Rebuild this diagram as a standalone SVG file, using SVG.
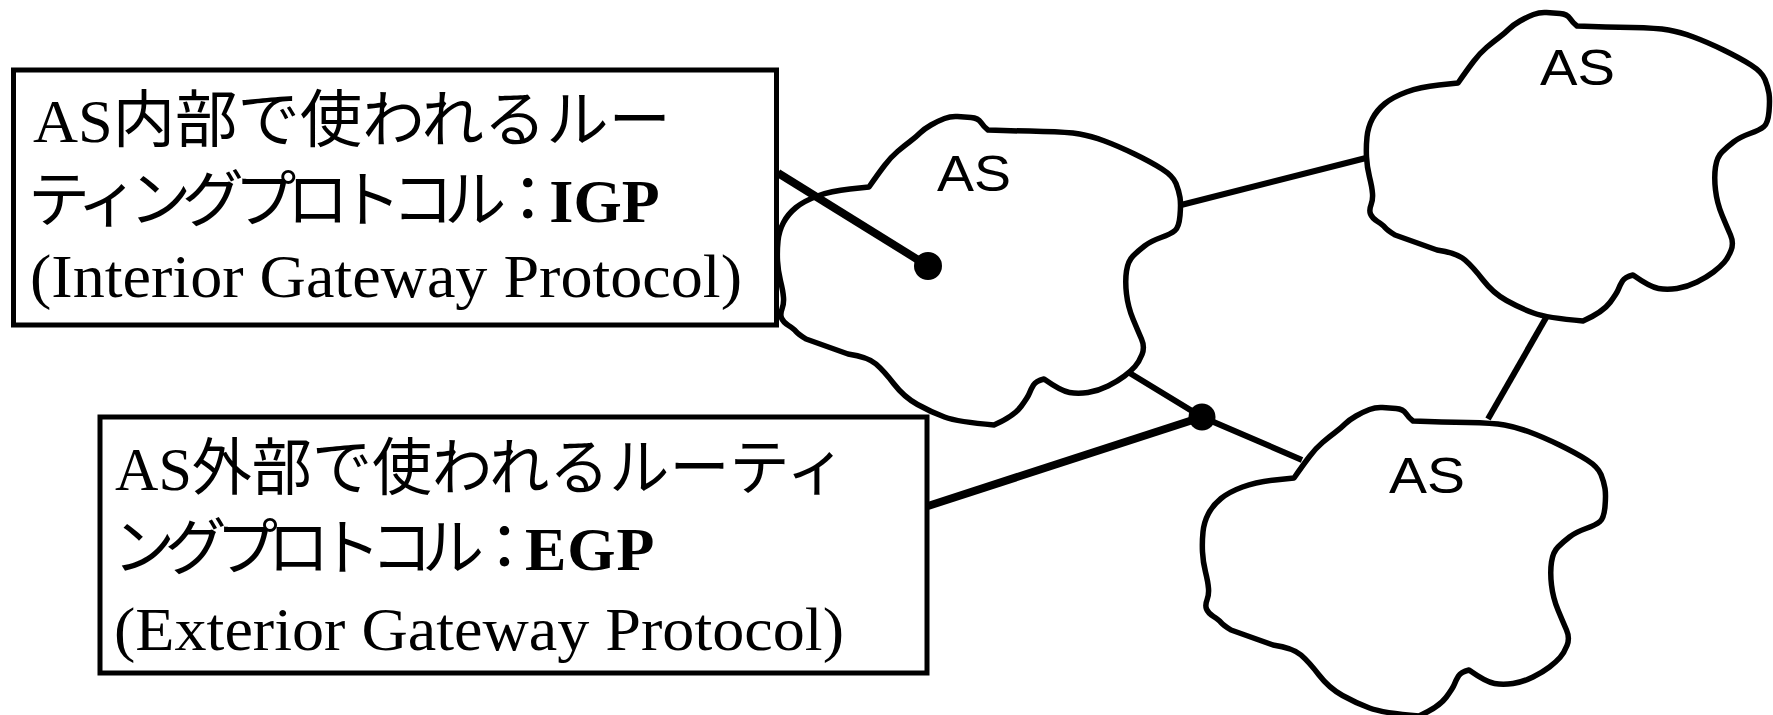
<svg xmlns="http://www.w3.org/2000/svg" xmlns:xlink="http://www.w3.org/1999/xlink" width="1773" height="715" viewBox="0 0 1773 715">
  <style>
    .cloud { fill: none; stroke: #000; stroke-width: 5.5; stroke-linejoin: round; }
    .box { fill: #fff; stroke: #000; stroke-width: 5; }
    .lbl { font-family: "Liberation Serif", "Noto Sans CJK JP", serif; font-size: 62px; fill: #000; }
    .b { font-weight: bold; }
    .as { font-family: "Liberation Sans", Arial, sans-serif; font-size: 50px; fill: #000; }
    .link { stroke: #000; stroke-width: 6; fill: none; }
    .lead { stroke: #000; stroke-width: 8; fill: none; }
    .dot { fill: #000; }
  </style>
  <defs>
    <!-- irregular AS outline, local origin at its upper-left -->
    <path id="cloud" d="M91,73 Q100,60 106.5,51.5 Q113,43 119.5,37.5 Q126,32 132,27.5 Q138,23 142,19 Q146,15 153,11 Q160,7 166.5,4.5 Q173,2 179.5,2.5 Q186,3 193,3.5 Q200,4 203,8.5 Q206,13 210,16 Q240,17 265,17.5 Q290,18 301.5,20 Q313,22 326.5,27 Q340,32 356.5,40 Q373,48 384,55 Q395,62 398,69.5 Q401,77 402,83.5 Q403,90 402,101.5 Q401,113 397,116.5 Q393,120 383,123.5 Q373,127 366.5,132 Q360,137 355,142 Q350,147 348.5,157 Q347,167 348.5,180 Q350,193 355,205 Q360,217 363.5,225 Q367,233 364,240.5 Q361,248 357,252.5 Q353,257 346.5,262 Q340,267 330,272 Q320,277 310,278.5 Q300,280 291.5,278.5 Q283,277 266,265 Q258,267 255.5,271 Q253,275 251.5,279 Q250,283 243,292.5 Q236,302 216,311 Q180,308 166.5,303 Q153,298 139.5,290.5 Q126,283 116,270 Q106,257 98,250 Q90,243 70,240 L28,225 Q20,220 18,217.5 Q16,215 10.5,211.5 Q5,208 3.5,204 Q2,200 4,195 Q6,190 5.5,183.5 Q5,177 2.5,167 Q0,157 -0.5,147 Q-1,137 0,127 Q1,117 5.5,108.5 Q10,100 18,93.5 Q26,87 39.5,82 Q53,77 72,75 Z"/>
  </defs>

  <!-- explanation boxes -->
  <g id="igp-box">
    <rect class="box" x="13.5" y="70" width="763" height="255"/>
    <text class="lbl" x="33" y="142" textLength="638" lengthAdjust="spacingAndGlyphs">AS内部で使われるルー</text>
    <text class="lbl" x="28" y="222"><tspan letter-spacing="-9.5">ティングプロトコル：</tspan><tspan class="b">IGP</tspan></text>
    <text class="lbl" x="30" y="297" textLength="712" lengthAdjust="spacingAndGlyphs">(Interior Gateway Protocol)</text>
  </g>

  <g id="egp-box">
    <rect class="box" x="100" y="417" width="827" height="256"/>
    <text class="lbl" x="115" y="490" textLength="731" lengthAdjust="spacingAndGlyphs">AS外部で使われるルーティ</text>
    <text class="lbl" x="113" y="570"><tspan letter-spacing="-10.5">ングプロトコル：</tspan><tspan class="b" letter-spacing="1">EGP</tspan></text>
    <text class="lbl" x="114" y="650" textLength="730" lengthAdjust="spacingAndGlyphs">(Exterior Gateway Protocol)</text>
  </g>

  <!-- autonomous systems -->
  <g id="as-center">
    <use xlink:href="#cloud" href="#cloud" class="cloud" transform="translate(778,114)"/>
    <text class="as" x="937" y="191" textLength="74" lengthAdjust="spacingAndGlyphs">AS</text>
  </g>
  <g id="as-upper">
    <use xlink:href="#cloud" href="#cloud" class="cloud" transform="translate(1367,10)"/>
    <text class="as" x="1540" y="85" textLength="75" lengthAdjust="spacingAndGlyphs">AS</text>
  </g>
  <g id="as-lower">
    <use xlink:href="#cloud" href="#cloud" class="cloud" transform="translate(1203,405)"/>
    <text class="as" x="1389" y="493" textLength="76" lengthAdjust="spacingAndGlyphs">AS</text>
  </g>

  <!-- connectors -->
  <g id="connectors">
    <line class="link" x1="1181" y1="205" x2="1366" y2="158"/>
    <line class="link" x1="1547" y1="316" x2="1488" y2="419"/>
    <polyline class="link" points="1128,372 1202,417 1302,460"/>
    <line class="lead" x1="778" y1="173" x2="928" y2="266"/>
    <circle class="dot" cx="928" cy="266" r="14"/>
    <line class="lead" x1="928" y1="506" x2="1202" y2="417"/>
    <circle class="dot" cx="1202" cy="417" r="13.5"/>
  </g>
</svg>
